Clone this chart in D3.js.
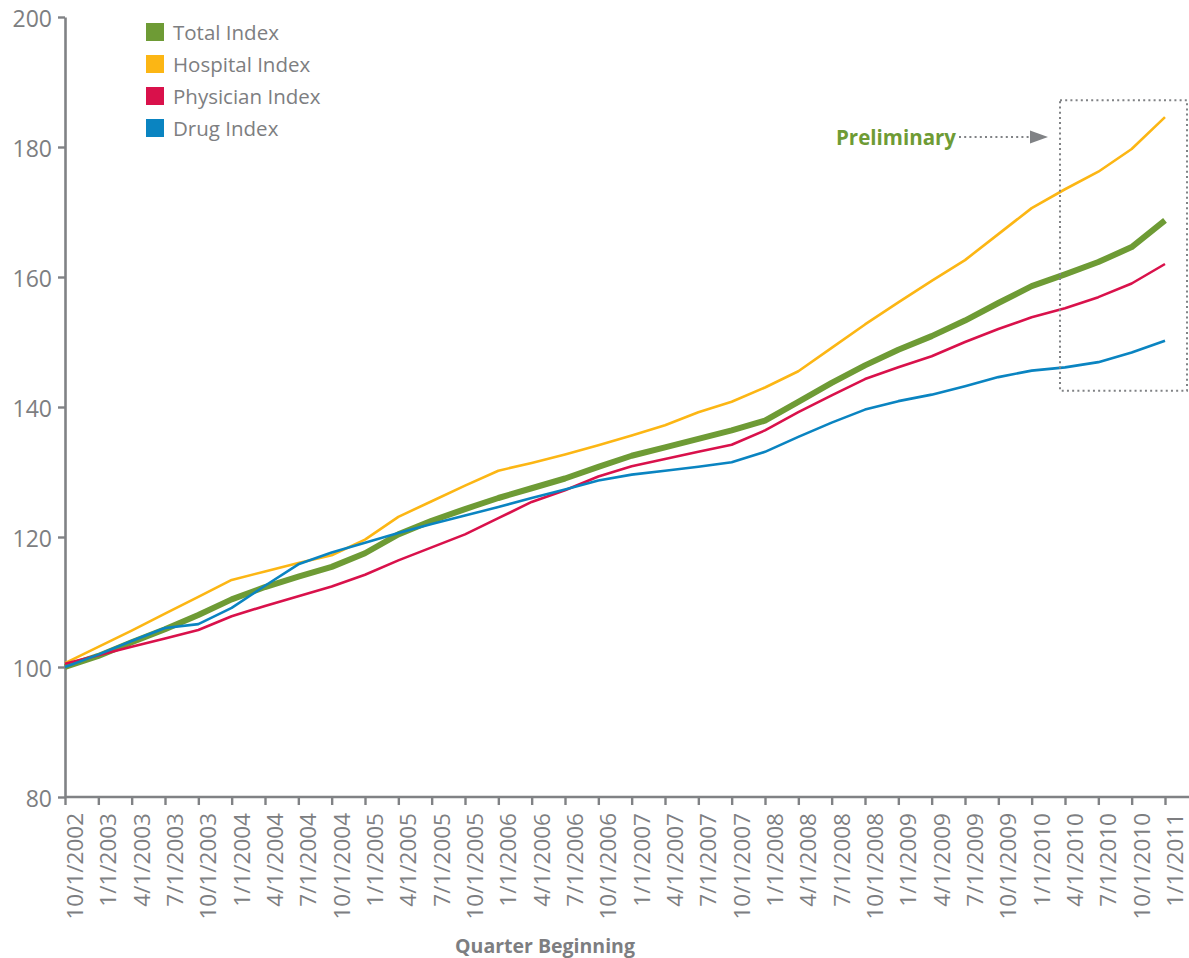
<!DOCTYPE html>
<html>
<head>
<meta charset="utf-8">
<script src="https://cdn.jsdelivr.net/npm/d3@7"></script>
<style>
  html, body { margin: 0; padding: 0; background: #ffffff; }
  svg { display: block; font-family: "Open Sans", "Noto Sans", sans-serif; }
</style>
</head>
<body>
<svg id="chart" width="1189" height="958"></svg>
<script>
// Quarter labels (x categories)
const quarters = [
  "10/1/2002",
  "1/1/2003", "4/1/2003", "7/1/2003", "10/1/2003",
  "1/1/2004", "4/1/2004", "7/1/2004", "10/1/2004",
  "1/1/2005", "4/1/2005", "7/1/2005", "10/1/2005",
  "1/1/2006", "4/1/2006", "7/1/2006", "10/1/2006",
  "1/1/2007", "4/1/2007", "7/1/2007", "10/1/2007",
  "1/1/2008", "4/1/2008", "7/1/2008", "10/1/2008",
  "1/1/2009", "4/1/2009", "7/1/2009", "10/1/2009",
  "1/1/2010", "4/1/2010", "7/1/2010", "10/1/2010",
  "1/1/2011"
];

// Index values per quarter (10/1/2002 = 100)
const totalIndex = [
  100.0, 101.7, 103.8, 105.8, 108.0, 110.4, 112.3, 113.9, 115.4, 117.5,
  120.4, 122.5, 124.3, 126.0, 127.5, 129.0, 130.8, 132.5, 133.8, 135.1,
  136.4, 137.9, 140.8, 143.7, 146.4, 148.8, 150.9, 153.3, 156.0, 158.6,
  160.4, 162.3, 164.6, 168.7
];
const hospitalIndex = [
  100.6, 103.1, 105.6, 108.2, 110.8, 113.4, 114.7, 116.0, 117.2, 119.6,
  123.1, 125.5, 127.9, 130.2, 131.4, 132.7, 134.1, 135.6, 137.2, 139.2,
  140.8, 143.0, 145.5, 149.1, 152.7, 156.1, 159.4, 162.6, 166.6, 170.6,
  173.5, 176.2, 179.7, 184.6
];
const physicianIndex = [
  100.5, 101.8, 103.1, 104.4, 105.7, 107.8, 109.4, 110.9, 112.4, 114.2,
  116.4, 118.4, 120.4, 122.9, 125.4, 127.2, 129.3, 130.9, 132.0, 133.1,
  134.2, 136.4, 139.2, 141.8, 144.3, 146.1, 147.8, 150.0, 152.0, 153.8,
  155.2, 156.9, 159.0, 162.0
];
const drugIndex = [
  100.0, 101.9, 104.0, 106.0, 106.6, 109.1, 112.5, 115.8, 117.6, 119.1,
  120.6, 122.0, 123.3, 124.6, 126.0, 127.3, 128.7, 129.6, 130.2, 130.8,
  131.5, 133.1, 135.4, 137.6, 139.6, 140.9, 141.9, 143.2, 144.6, 145.6,
  146.1, 146.9, 148.4, 150.2
];

const yTicks = [80, 100, 120, 140, 160, 180, 200];

// Series definitions (legend order)
const series = [
  { name: "Total Index",     values: totalIndex,     color: "#6e9b35", width: 6 },
  { name: "Hospital Index",  values: hospitalIndex,  color: "#fcb614", width: 2.6 },
  { name: "Physician Index", values: physicianIndex, color: "#d9114b", width: 2.6 },
  { name: "Drug Index",      values: drugIndex,      color: "#0a84c1", width: 2.6 }
];
// Stacking order of the lines (last drawn on top)
const drawOrder = ["Hospital Index", "Total Index", "Physician Index", "Drug Index"];

// Preliminary period starts at this quarter
const preliminaryStart = "4/1/2010";
const preliminaryRange = [142.5, 187.2];

const W = 1189, H = 958;
const axisColor = "#808285";
const textColor = "#7d7e81";

const svg = d3.select("#chart");

const x = d3.scalePoint().domain(quarters).range([65, 1165]);
const y = d3.scaleLinear().domain([80, 200]).range([797, 17]);

// Y axis
const yAxis = svg.append("g")
  .attr("transform", `translate(${x.range()[0]},0)`)
  .call(d3.axisLeft(y).tickValues(yTicks).tickSize(7).tickSizeOuter(0).tickPadding(6));
yAxis.select(".domain").attr("stroke", axisColor).attr("stroke-width", 2.6);
yAxis.selectAll(".tick line").attr("stroke", axisColor).attr("stroke-width", 2.4);
yAxis.selectAll(".tick text")
  .attr("fill", textColor)
  .attr("font-size", 23)
  .attr("font-family", "'Open Sans', sans-serif")
  .attr("dy", "0.42em");

// X axis
const xAxis = svg.append("g")
  .attr("transform", `translate(0,${y(80)})`)
  .call(d3.axisBottom(x).tickSize(8).tickSizeOuter(0));
xAxis.select(".domain").remove();
xAxis.append("line")
  .attr("x1", x.range()[0]).attr("x2", W)
  .attr("y1", 0).attr("y2", 0)
  .attr("stroke", axisColor).attr("stroke-width", 2.6);
xAxis.selectAll(".tick line").attr("stroke", axisColor).attr("stroke-width", 2.4);
xAxis.selectAll(".tick text")
  .attr("fill", textColor)
  .attr("font-size", 22.5)
  .attr("font-family", "'Open Sans', sans-serif")
  .attr("text-anchor", "end")
  .attr("transform", "rotate(-90)")
  .attr("x", -16)
  .attr("y", 17.5)
  .attr("dy", 0);

// X axis title
svg.append("text")
  .attr("x", 545).attr("y", 953)
  .attr("text-anchor", "middle")
  .attr("fill", textColor)
  .attr("font-size", 19.5)
  .attr("font-weight", 700)
  .text("Quarter Beginning");

// Lines
const line = d3.line()
  .x((d, i) => x(quarters[i]))
  .y(d => y(d));

const byName = new Map(series.map(s => [s.name, s]));
svg.append("g").selectAll("path")
  .data(drawOrder.map(n => byName.get(n)))
  .join("path")
  .attr("d", s => line(s.values))
  .attr("fill", "none")
  .attr("stroke", s => s.color)
  .attr("stroke-width", s => s.width)
  .attr("stroke-linejoin", "round");

// Preliminary box
const boxX0 = x(preliminaryStart) - 5;
const boxX1 = W - 2;
svg.append("rect")
  .attr("x", boxX0).attr("y", y(preliminaryRange[1]))
  .attr("width", boxX1 - boxX0)
  .attr("height", y(preliminaryRange[0]) - y(preliminaryRange[1]))
  .attr("fill", "none")
  .attr("stroke", axisColor)
  .attr("stroke-width", 2)
  .attr("stroke-dasharray", "2,3.2");

// Preliminary label with dotted arrow
const prelimY = 137;
svg.append("text")
  .attr("x", 956).attr("y", 145)
  .attr("text-anchor", "end")
  .attr("fill", "#6e9b35")
  .attr("font-size", 20.5)
  .attr("font-weight", 700)
  .text("Preliminary");
svg.append("line")
  .attr("x1", 959).attr("x2", 1030)
  .attr("y1", prelimY).attr("y2", prelimY)
  .attr("stroke", axisColor)
  .attr("stroke-width", 2)
  .attr("stroke-dasharray", "2,3.2");
svg.append("path")
  .attr("d", `M1030,${prelimY - 6.5}L1048,${prelimY}L1030,${prelimY + 6.5}Z`)
  .attr("fill", axisColor);

// Legend
const legend = svg.append("g").attr("transform", "translate(146,23)");
const items = legend.selectAll("g")
  .data(series)
  .join("g")
  .attr("transform", (d, i) => `translate(0,${i * 32})`);
items.append("rect")
  .attr("width", 18).attr("height", 18)
  .attr("fill", d => d.color);
items.append("text")
  .attr("x", 27).attr("y", 17)
  .attr("fill", textColor)
  .attr("font-size", 20.5)
  .text(d => d.name);
</script>
</body>
</html>
